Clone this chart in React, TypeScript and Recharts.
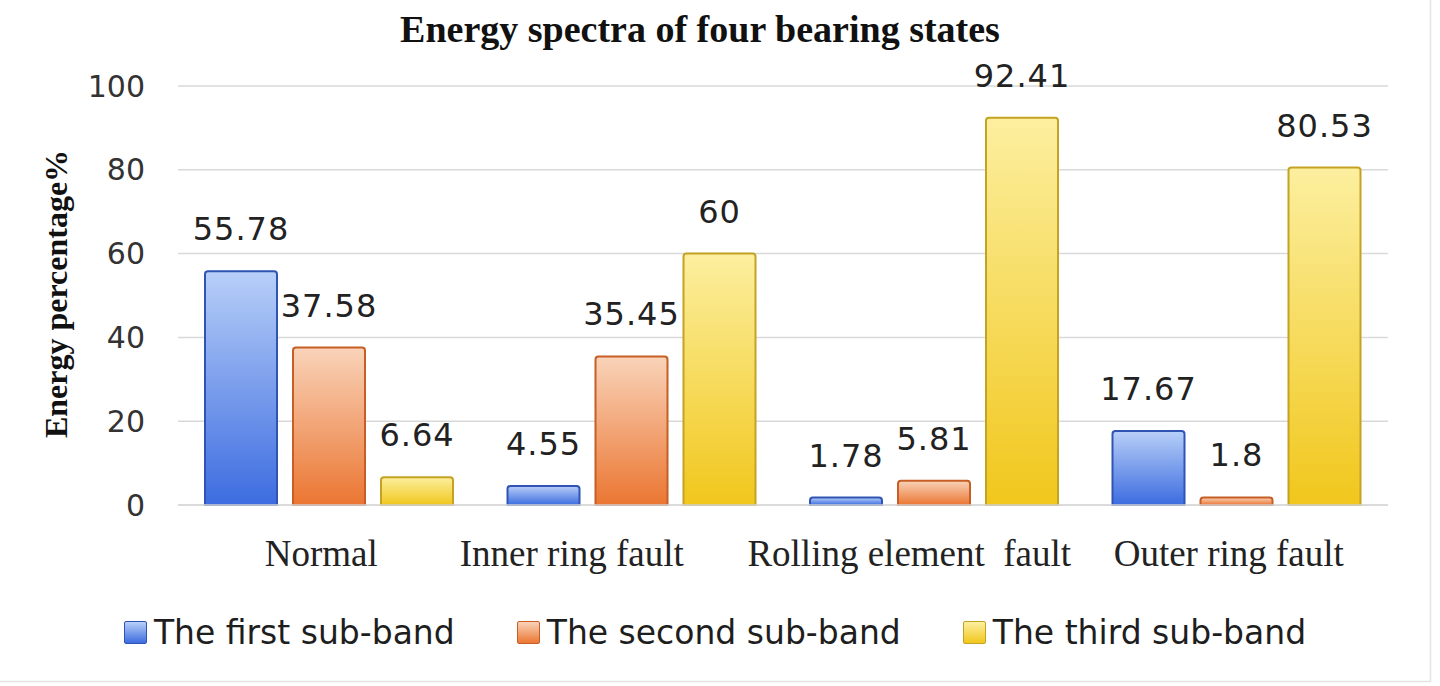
import React from 'react';
import { BarChart, Bar, XAxis, YAxis, CartesianGrid, Legend, LabelList, Customized } from 'recharts';

const categories = ['Normal', 'Inner ring fault', 'Rolling element  fault', 'Outer ring fault'];
const firstSubBand = [55.78, 4.55, 1.78, 17.67];
const secondSubBand = [37.58, 35.45, 5.81, 1.8];
const thirdSubBand = [6.64, 60, 92.41, 80.53];
const yTicks = [0, 20, 40, 60, 80, 100];
const seriesNames = ['The first sub-band', 'The second sub-band', 'The third sub-band'];

const rows = categories.map((name, i) => ({
  name,
  first: firstSubBand[i],
  second: secondSubBand[i],
  third: thirdSubBand[i],
}));

const SERIES = [
  { key: 'first', name: seriesNames[0], top: '#b8cff8', bottom: '#3c6ce0', stroke: '#2f54b3' },
  { key: 'second', name: seriesNames[1], top: '#f9d3b9', bottom: '#eb7632', stroke: '#c65e26' },
  { key: 'third', name: seriesNames[2], top: '#fcef9f', bottom: '#f1c71c', stroke: '#c4a223' },
];

const X_LABEL_NUDGE = [-8, -60, -25, -8];

const XTick = (props: any) => {
  const { x, y, payload } = props;
  const nudge = X_LABEL_NUDGE[payload.index] ?? 0;
  return (
    <text
      x={x + nudge}
      y={y + 61}
      textAnchor="middle"
      style={{ whiteSpace: 'pre' }}
      fontFamily="'Liberation Serif', 'Times New Roman', serif"
      fontSize={37}
      fill="#222"
    >
      {payload.value}
    </text>
  );
};

const LegendContent = () => (
  <div
    style={{
      display: 'flex',
      justifyContent: 'center',
      alignItems: 'center',
      height: 40,
      gap: 62,
      paddingRight: 10,
      fontFamily: "'DejaVu Sans', sans-serif",
      fontSize: 33,
      color: '#1e1e1e',
    }}
  >
    {SERIES.map((s) => (
      <div key={s.key} style={{ display: 'flex', alignItems: 'center' }}>
        <span
          style={{
            display: 'inline-block',
            width: 21,
            height: 21,
            borderRadius: 2,
            border: `1px solid ${s.stroke}`,
            background: `linear-gradient(${s.top}, ${s.bottom})`,
            marginRight: 7,
          }}
        />
        <span>{s.name}</span>
      </div>
    ))}
  </div>
);

const Decorations = () => (
  <g>
    <text
      x={700}
      y={42}
      textAnchor="middle"
      fontFamily="'Liberation Serif', 'Times New Roman', serif"
      fontWeight="bold"
      fontSize={38}
      fill="#111"
    >
      Energy spectra of four bearing states
    </text>
    <text
      x={0}
      y={0}
      transform="translate(67 294) rotate(-90)"
      textAnchor="middle"
      fontFamily="'Liberation Serif', 'Times New Roman', serif"
      fontWeight="bold"
      fontSize={32}
      fill="#111"
    >
      Energy percentage%
    </text>
    <line x1={1430.5} y1={0} x2={1430.5} y2={682} stroke="#e4e4e4" strokeWidth={1.5} />
    <line x1={0} y1={681.5} x2={1430} y2={681.5} stroke="#e4e4e4" strokeWidth={1.5} />
  </g>
);

export default function App() {
  return (
    <div style={{ position: 'absolute', left: 0, top: 0, width: 1440, height: 686, background: '#fff' }}>
      <BarChart
        width={1440}
        height={686}
        data={rows}
        margin={{ top: 86, right: 52, left: 0, bottom: 34 }}
        barSize={72}
        barGap={16}
      >
        <defs>
          {SERIES.map((s) => (
            <linearGradient key={s.key} id={`grad-${s.key}`} x1="0" y1="0" x2="0" y2="1">
              <stop offset="0%" stopColor={s.top} />
              <stop offset="100%" stopColor={s.bottom} />
            </linearGradient>
          ))}
        </defs>
        <CartesianGrid vertical={false} stroke="#d9d9d9" strokeWidth={1.5} />
        <XAxis
          dataKey="name"
          height={107}
          axisLine={{ stroke: '#d9d9d9', strokeWidth: 1.5 }}
          tickLine={false}
          tickSize={0}
          tickMargin={0}
          tick={<XTick />}
          interval={0}
        />
        <YAxis
          width={178}
          domain={[0, 100]}
          ticks={yTicks}
          axisLine={false}
          tickLine={false}
          tickSize={0}
          tickMargin={33}
          tick={{ fontFamily: "'DejaVu Sans', sans-serif", fontSize: 30, fill: '#333' }}
        />
        <Legend verticalAlign="bottom" content={<LegendContent />} wrapperStyle={{ left: 0, width: 1440 }} />
        {SERIES.map((s) => (
          <Bar
            key={s.key}
            dataKey={s.key}
            name={s.name}
            fill={`url(#grad-${s.key})`}
            stroke={s.stroke}
            strokeWidth={2}
            radius={[3, 3, 0, 0]}
            isAnimationActive={false}
          >
            <LabelList
              dataKey={s.key}
              position="top"
              offset={31}
              style={{ fontFamily: "'DejaVu Sans', sans-serif", fontSize: 32, fill: '#222', letterSpacing: 1 }}
            />
          </Bar>
        ))}
        <Customized component={<Decorations />} />
      </BarChart>
    </div>
  );
}
